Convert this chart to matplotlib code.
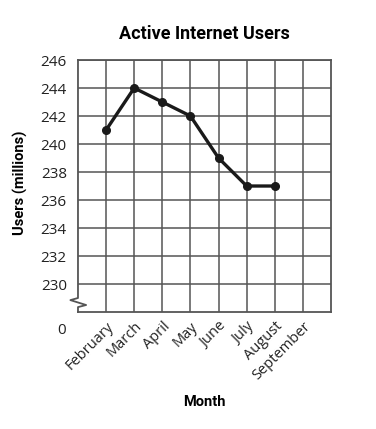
import matplotlib.pyplot as plt

# data
months = ["February", "March", "April", "May", "June", "July", "August", "September"]
users = [241, 244, 243, 242, 239, 237, 237]          # millions, Feb..Aug
y_ticks = [230, 232, 234, 236, 238, 240, 242, 244, 246]

TICK_FONT = ["Open Sans", "DejaVu Sans"]
BOLD_FONT = ["Roboto", "DejaVu Sans"]

fig = plt.figure(figsize=(3.76, 4.29), dpi=100)
ax = fig.add_axes([0.2074, 0.2727, 0.6729, 0.5874])

n_cols = len(months) + 1
ax.set_xlim(0, n_cols)
ax.set_ylim(228, 246)

# grid
grid_kw = dict(color="#555555", lw=1.1, zorder=1)
for x in range(1, n_cols):
    ax.axvline(x, **grid_kw)
for y in y_ticks:
    ax.axhline(y, **grid_kw)

for s in ["top", "right", "bottom"]:
    ax.spines[s].set_color("#555555")
    ax.spines[s].set_linewidth(1.3)
ax.spines["left"].set_visible(False)

# left axis with break (zigzag)
zx = [0, 0, -0.27, 0.29, 0, 0]
zy = [246, 229.0, 228.85, 228.5, 228.35, 228]
ax.plot(zx, zy, color="#555555", lw=1.3, clip_on=False, zorder=2)

# data line
xs = list(range(1, len(users) + 1))
ax.plot(xs, users, color="#1a1a1a", lw=2.4, marker="o", ms=5.5, zorder=3)

ax.set_yticks(y_ticks)
ax.set_yticklabels([str(v) for v in y_ticks], family=TICK_FONT, fontsize=11, color="#222222")
ax.set_xticks(range(1, len(months) + 1))
ax.set_xticklabels(months, family=TICK_FONT, fontsize=10.5, color="#222222",
                   rotation=45, ha="right", va="top", rotation_mode="anchor")
ax.tick_params(axis="both", length=0)
ax.tick_params(axis="y", pad=8)
ax.tick_params(axis="x", pad=5)

ax.text(-0.57, 226.7, "0", family=TICK_FONT, fontsize=11, color="#222222",
        ha="center", va="center", clip_on=False)

ax.set_title("Active Internet Users", family=BOLD_FONT, fontweight="bold",
             fontsize=13, pad=15)
fig.text(0.055, 0.573, "Users (millions)", family=BOLD_FONT, fontweight="bold",
         fontsize=10.5, rotation=90, ha="center", va="center")
fig.text(0.543, 0.063, "Month", family=BOLD_FONT, fontweight="bold",
         fontsize=10.5, ha="center", va="center")

fig.savefig("out.png", dpi=100)
